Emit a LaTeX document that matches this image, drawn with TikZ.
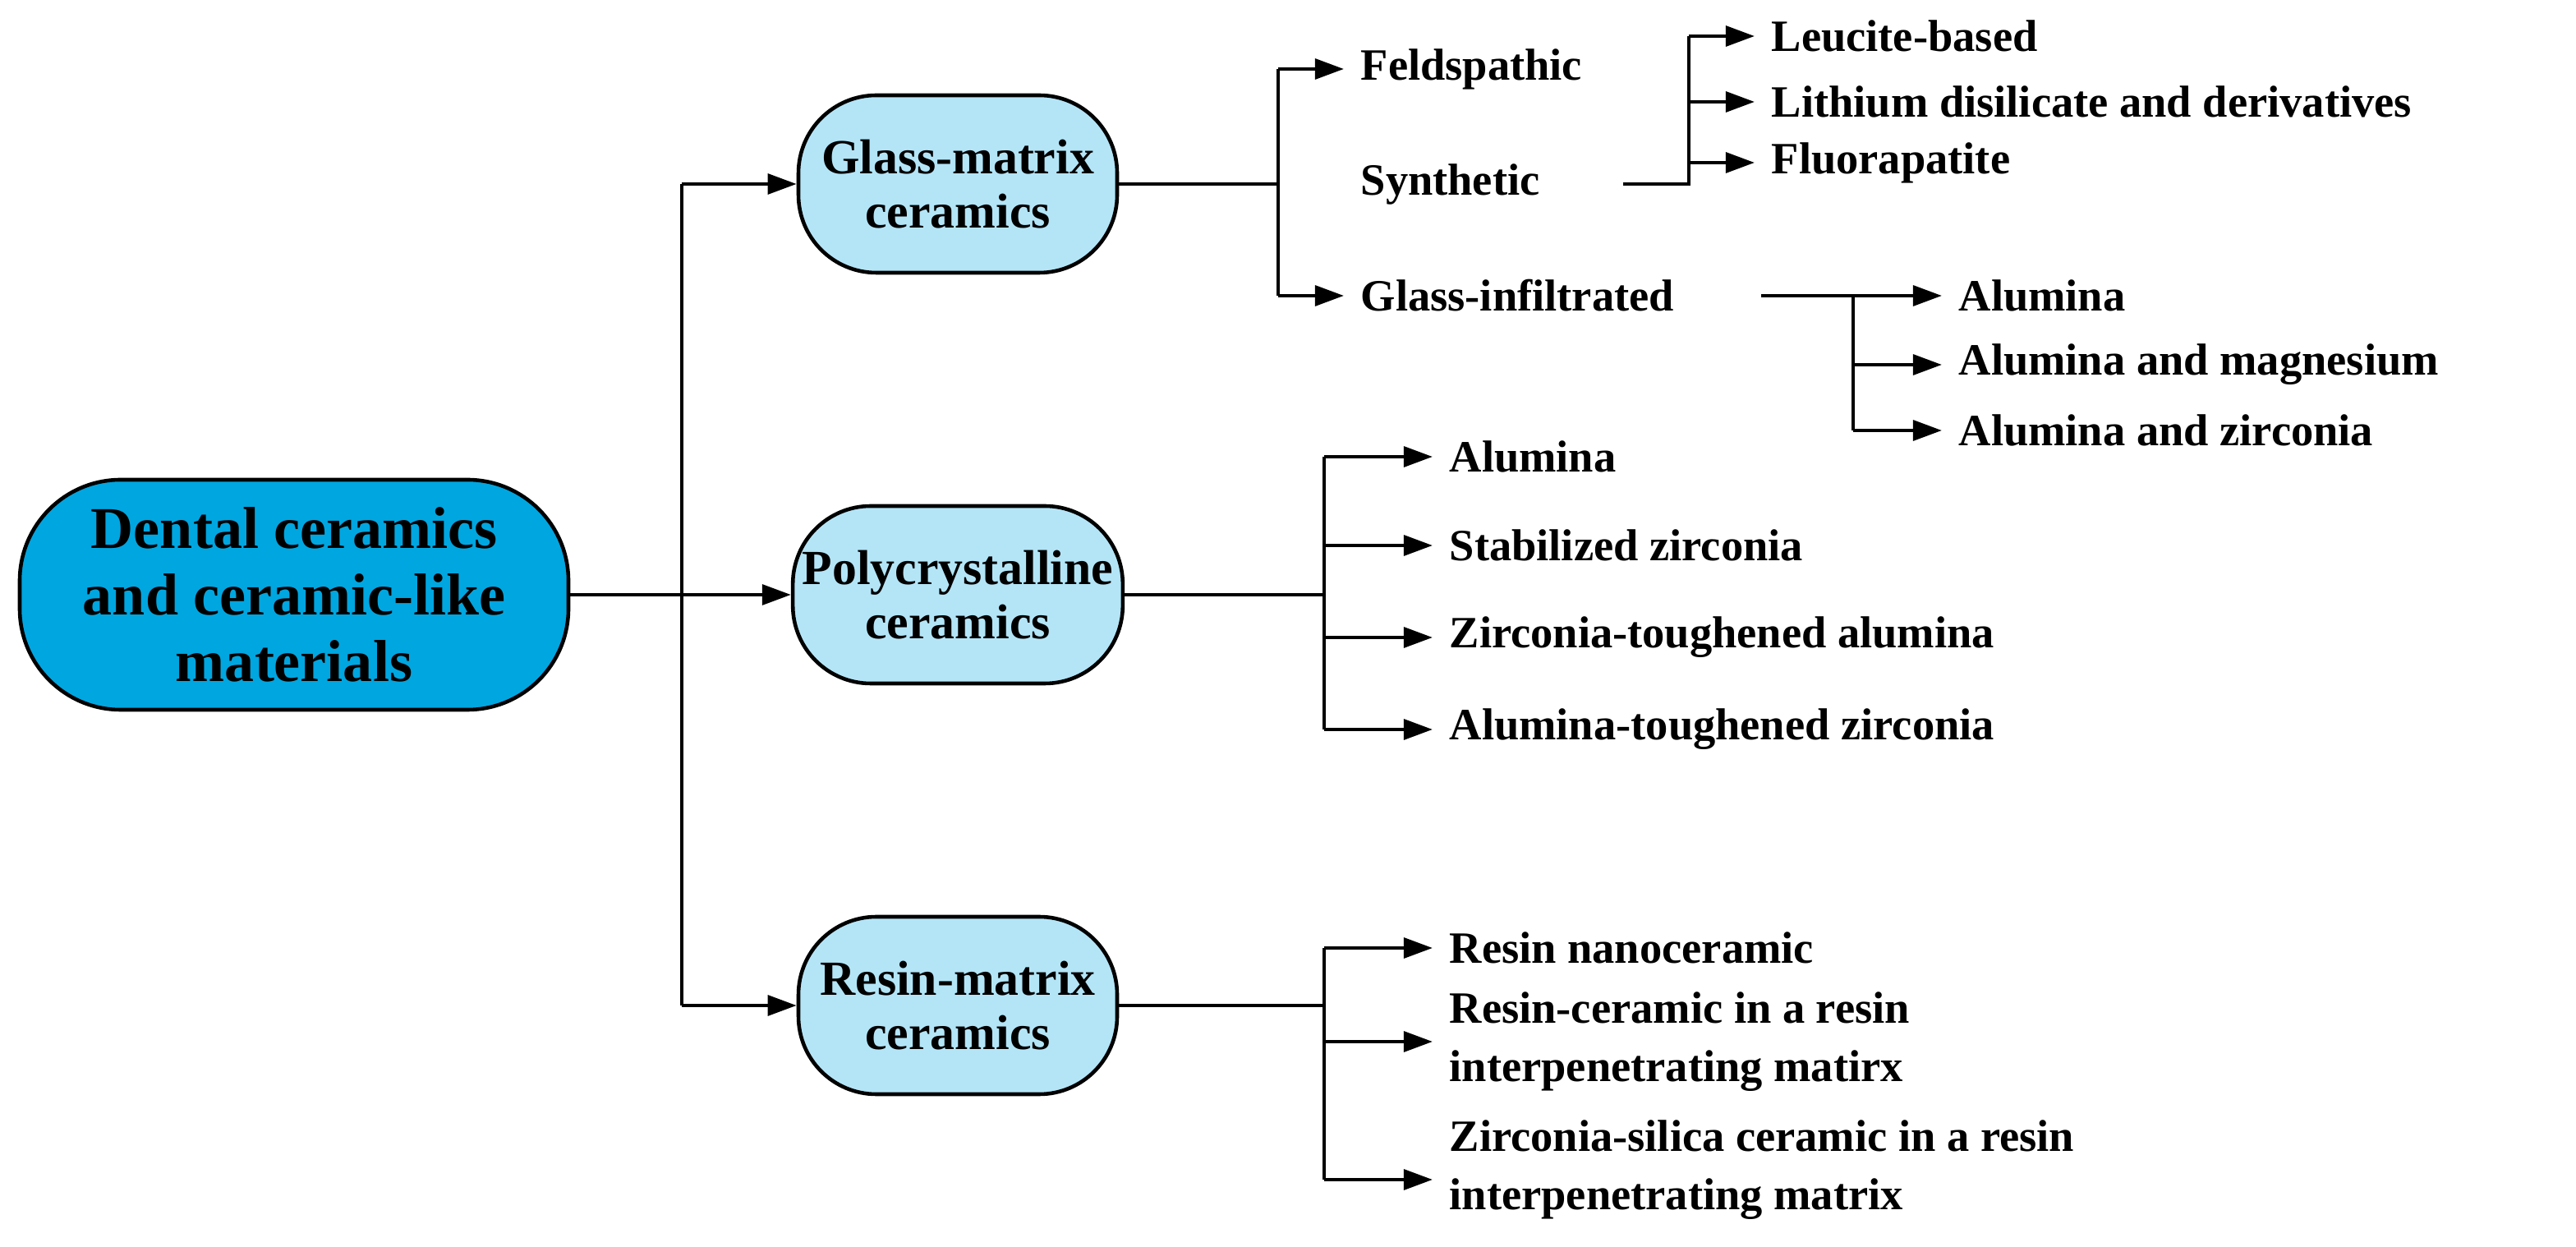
\documentclass[tikz,border=0pt]{standalone}
\usepackage{fontspec}
\setmainfont{Liberation Serif}
\usetikzlibrary{arrows.meta}
\definecolor{rootc}{HTML}{00A6E0}
\definecolor{subc}{HTML}{B3E5F7}
\begin{document}
\begin{tikzpicture}[x=0.02cm,y=-0.02cm,
  ln/.style={line width=1.3pt},
  ar/.style={ln,-{Triangle[length=10pt,width=7pt]}},
  box/.style={draw,line width=1.3pt,rounded corners=27pt,minimum width=194*0.02cm,minimum height=108*0.02cm,align=center,font=\fontsize{17}{19}\selectfont\bfseries,fill=subc},
  lf/.style={anchor=west,inner sep=0pt,align=left,font=\fontsize{15.5}{20}\selectfont\bfseries}]
\useasboundingbox (0,0) rectangle (1568,759);
\node[box,fill=rootc,minimum width=334*0.02cm,minimum height=140*0.02cm,rounded corners=35pt,font=\fontsize{20.5}{23}\selectfont\bfseries] (root) at (179,362) {Dental ceramics\\and ceramic-like\\materials};
\node[box] (g) at (583,112) {Glass-matrix\\ceramics};
\node[box] (p) at (583,362) {Polycrystalline\\ceramics};
\node[box] (r) at (583,612) {Resin-matrix\\ceramics};
\coordinate (t1) at (415,112); \coordinate (t3) at (415,612); \coordinate (t2) at (415,362);
\draw[ln] (root.east) -- (t2);
\draw[ln] (t1) -- (t3);
\draw[ar] (t1) -- (g.west); \draw[ar] (t2) -- (p.west); \draw[ar] (t3) -- (r.west);
% glass
\node[lf] (fe) at (828,42) {Feldspathic};
\node[lf] (sy) at (828,112) {Synthetic};
\node[lf] (gi) at (828,180) {Glass-infiltrated};
\coordinate (ga) at (778,42); \coordinate (gb) at (778,112); \coordinate (gc) at (778,180);
\draw[ln] (g.east) -- (gb); \draw[ln] (ga) -- (gc);
\draw[ar] (ga) -- ([xshift=-10*0.02cm]fe.west); \draw[ar] (gc) -- ([xshift=-10*0.02cm]gi.west);
\node[lf] (le) at (1078,22) {Leucite-based};
\node[lf] (li) at (1078,62) {Lithium disilicate and derivatives};
\node[lf] (fl) at (1078,99) {Fluorapatite};
\coordinate (s0) at (988,112); \coordinate (sa) at (1028,22); \coordinate (sb) at (1028,62); \coordinate (sc) at (1028,99); \coordinate (sd) at (1028,112);
\draw[ln] (s0) -- (sd) -- (sa);
\foreach \c/\n in {sa/le,sb/li,sc/fl} \draw[ar] (\c) -- ([xshift=-10*0.02cm]\n.west);
\node[lf] (a1) at (1192,180) {Alumina};
\node[lf] (a2) at (1192,222) {Alumina and magnesium};
\node[lf] (a3) at (1192,262) {Alumina and zirconia};
\coordinate (i0) at (1072,180); \coordinate (ia) at (1128,180); \coordinate (ib) at (1128,222); \coordinate (ic) at (1128,262);
\draw[ln] (i0) -- (ia) -- (ic);
\draw[ar] (i0) -- ([xshift=-10*0.02cm]a1.west);
\draw[ar] (ib) -- ([xshift=-10*0.02cm]a2.west);
\draw[ar] (ic) -- ([xshift=-10*0.02cm]a3.west);
% poly
\node[lf] (p1) at (882,278) {Alumina};
\node[lf] (p2) at (882,332) {Stabilized zirconia};
\node[lf] (p3) at (882,388) {Zirconia-toughened alumina};
\node[lf] (p4) at (882,444) {Alumina-toughened zirconia};
\coordinate (pm) at (806,362); \coordinate (pa) at (806,278); \coordinate (pb) at (806,332); \coordinate (pc) at (806,388); \coordinate (pd) at (806,444);
\draw[ln] (p.east) -- (pm); \draw[ln] (pa) -- (pd);
\foreach \c/\n in {pa/p1,pb/p2,pc/p3,pd/p4} \draw[ar] (\c) -- ([xshift=-10*0.02cm]\n.west);
% resin
\node[lf] (r1) at (882,577) {Resin nanoceramic};
\node[lf] (r2) at (882,634) {Resin-ceramic in a resin\\interpenetrating matirx};
\node[lf] (r3) at (882,712) {Zirconia-silica ceramic in a resin\\interpenetrating matrix};
\coordinate (rm) at (806,612); \coordinate (ra) at (806,577); \coordinate (rb) at (806,634); \coordinate (rc) at (806,718);
\draw[ln] (r.east) -- (rm); \draw[ln] (ra) -- (rc);
\draw[ar] (ra) -- ([xshift=-10*0.02cm]r1.west);
\draw[ar] (rb) -- ([xshift=-10*0.02cm]r2.west);
\draw[ar] (rc) -- ([xshift=-10*0.02cm]r3.west|-rc);
\end{tikzpicture}
\end{document}
